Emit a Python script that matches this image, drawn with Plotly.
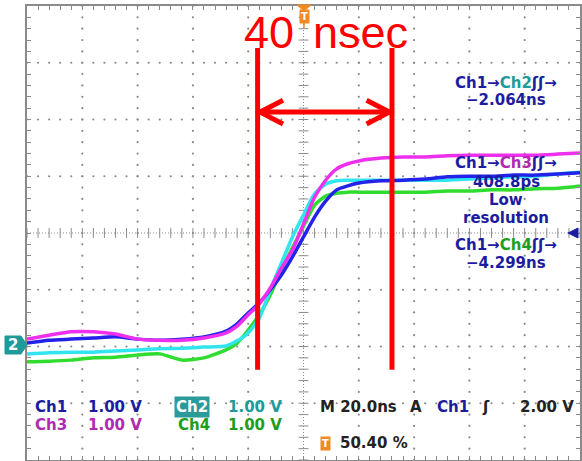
import plotly.graph_objects as go

# ---------------- data (20 ns/div, 1.00 V/div, volts from screen centre)
t_ns = [-100, -92, -84, -76, -68, -60, -52, -44, -36, -28, -24, -20, -16, -12, -8, -4,
        0, 4, 8, 12, 16, 20, 28, 36, 44, 52, 60, 68, 76, 84, 92, 100]
ch1_v = [-1.94, -1.89, -1.87, -1.85, -1.83, -1.87, -1.89, -1.87, -1.83, -1.73, -1.60, -1.41, -1.23, -1.00, -0.74, -0.42,
         -0.07, 0.28, 0.56, 0.76, 0.83, 0.88, 0.92, 0.93, 0.95, 0.99, 1.00, 1.00, 1.02, 1.02, 1.04, 1.06]
ch2_v = [-2.13, -2.11, -2.10, -2.10, -2.08, -2.06, -2.04, -2.03, -2.01, -1.99, -1.90, -1.76, -1.50, -1.00, -0.53, -0.07,
         0.32, 0.69, 0.86, 0.92, 0.93, 0.93, 0.93, 0.93, 0.93, 0.93, 0.95, 0.97, 0.99, 1.00, 1.04, 1.07]
ch3_v = [-1.87, -1.80, -1.74, -1.74, -1.78, -1.87, -1.89, -1.89, -1.85, -1.76, -1.64, -1.44, -1.25, -0.97, -0.62, -0.30,
         0.16, 0.63, 0.93, 1.13, 1.22, 1.27, 1.32, 1.34, 1.34, 1.36, 1.37, 1.37, 1.37, 1.37, 1.39, 1.41]
ch4_v = [-2.27, -2.26, -2.24, -2.20, -2.19, -2.15, -2.13, -2.24, -2.20, -2.06, -1.94, -1.71, -1.44, -1.09, -0.65, -0.26,
         0.12, 0.49, 0.65, 0.70, 0.72, 0.72, 0.72, 0.72, 0.72, 0.74, 0.74, 0.76, 0.76, 0.78, 0.79, 0.83]

cursor_ns = [-16.6, 32.0]          # hand-drawn red cursors
cursor_label = ["40", "nsec"]
meas_ch2 = "−2.064ns"
meas_ch3 = "408.8ps"
meas_ch4 = "−4.299ns"
volts_div = ["1.00 V", "1.00 V", "1.00 V", "1.00 V"]
timebase = "M 20.0ns"
trig_level = "2.00 V"
trig_pos = "50.40 %"

# ---------------- screen geometry
W, H = 582, 461
ML, MR, MT, MB = 27, 2, 6, 1
PW, PH = W - ML - MR, H - MT - MB


def X(p):
    return (p - ML) / PW


def Y(p):
    return (H - MB - p) / PH


GRID = "#8a8a8a"
NAVY = "#1c1ca0"
TEAL = "#1e9a9a"
MAG = "#b02ab0"
GRN = "#1e9e1e"
BLK = "#222222"
RED = "#ff0000"
ORANGE = "#f08a24"
FONT = "DejaVu Sans"

fig = go.Figure()

# grid dots
gx, gy = [], []
for xd in range(-80, 81, 20):
    if xd == 0:
        continue
    for k in range(-20, 21):
        gx.append(xd)
        gy.append(k * 0.2)
for yd in range(-3, 4):
    if yd == 0:
        continue
    for k in range(-25, 26):
        gx.append(k * 4)
        gy.append(yd)
fig.add_trace(go.Scatter(x=gx, y=gy, mode="markers", hoverinfo="skip",
                         marker=dict(size=2.2, color=GRID)))
fig.add_trace(go.Scatter(x=[k * 4 for k in range(-25, 26)], y=[0] * 51, mode="markers", hoverinfo="skip",
                         marker=dict(symbol="line-ns-open", size=7, color=GRID,
                                     line=dict(width=1, color=GRID))))
fig.add_trace(go.Scatter(x=[0] * 41, y=[k * 0.2 for k in range(-20, 21)], mode="markers", hoverinfo="skip",
                         marker=dict(symbol="line-ew-open", size=7, color=GRID,
                                     line=dict(width=1, color=GRID))))

# waveforms
for ys, col in [(ch4_v, "#2fdc2f"), (ch2_v, "#30e4f0"), (ch1_v, "#2222e8"), (ch3_v, "#ee30ee")]:
    fig.add_trace(go.Scatter(x=t_ns, y=ys, mode="lines", hoverinfo="skip",
                             line=dict(color=col, width=3.5, shape="spline", smoothing=0.6)))

shapes = []
# centre cross (dotted)
shapes.append(dict(type="line", xref="x", yref="y", x0=-100, x1=100, y0=0, y1=0, layer="below",
                   line=dict(color=GRID, width=1, dash="1px,2px")))
shapes.append(dict(type="line", xref="x", yref="y", x0=0, x1=0, y0=-4, y1=4, layer="below",
                   line=dict(color=GRID, width=1, dash="1px,2px")))

# red cursors and arrow
ytop, ybot, yarr = 3.26, -2.41, 2.13
for c in cursor_ns:
    shapes.append(dict(type="line", xref="x", yref="y", x0=c, x1=c, y0=ybot, y1=ytop,
                       line=dict(color=RED, width=5)))
a0, a1 = cursor_ns[0] + 0.9, cursor_ns[1] - 0.9
shapes.append(dict(type="line", xref="x", yref="y", x0=a0, x1=a1, y0=yarr, y1=yarr,
                   line=dict(color=RED, width=5)))
hx, hy = 8.3, 0.21
shapes.append(dict(type="path", xref="x", yref="y",
                   path=f"M {a0+hx},{yarr+hy} L {a0},{yarr} L {a0+hx},{yarr-hy}",
                   line=dict(color=RED, width=5)))
shapes.append(dict(type="path", xref="x", yref="y",
                   path=f"M {a1-hx},{yarr+hy} L {a1},{yarr} L {a1-hx},{yarr-hy}",
                   line=dict(color=RED, width=5)))

# trigger-position marker (top)
shapes.append(dict(type="path", xref="paper", yref="paper",
                   path=f"M {X(297)},{Y(5)} L {X(311)},{Y(5)} L {X(304)},{Y(11)} Z",
                   fillcolor=ORANGE, line=dict(color=ORANGE, width=1)))
shapes.append(dict(type="line", xref="paper", yref="paper", x0=X(304), x1=X(304), y0=Y(22), y1=Y(28),
                   line=dict(color=ORANGE, width=1.5)))
# ch2 ground marker (left)
shapes.append(dict(type="path", xref="paper", yref="paper",
                   path=f"M {X(5)},{Y(336)} L {X(21)},{Y(336)} L {X(27)},{Y(345)} L {X(21)},{Y(354)} L {X(5)},{Y(354)} Z",
                   fillcolor=TEAL, line=dict(color=TEAL, width=1)))
# ch1 trigger-level marker (right)
shapes.append(dict(type="path", xref="paper", yref="paper",
                   path=f"M {X(578)},{Y(228)} L {X(568)},{Y(233)} L {X(578)},{Y(238)} Z",
                   fillcolor=NAVY, line=dict(color=NAVY, width=1)))

ann = []


def txt(x, y, s, color=BLK, size=15, xanchor="left", bold=True, **kw):
    ann.append(dict(x=X(x), y=Y(y), xref="paper", yref="paper", text=(f"<b>{s}</b>" if bold else s),
                    showarrow=False, xanchor=xanchor, yanchor="middle",
                    font=dict(family=FONT, size=size, color=color), **kw))


def sp(s, c):
    return f'<span style="color:{c}">{s}</span>'


# red label, split around the trigger marker
ann.append(dict(x=X(296), y=Y(32), xref="paper", yref="paper", text=cursor_label[0], showarrow=False,
                xanchor="right", yanchor="middle",
                font=dict(family="Liberation Sans", size=45, color=RED)))
ann.append(dict(x=X(311), y=Y(32), xref="paper", yref="paper", text=cursor_label[1], showarrow=False,
                xanchor="left", yanchor="middle",
                font=dict(family="Liberation Sans", size=45, color=RED)))
# trigger T box
txt(304, 17, "T", color="white", size=10, xanchor="center", bgcolor=ORANGE, borderpad=1)
# ch2 marker label
txt(13, 345, "2", color="white", size=15, xanchor="center")

# measurements on the right
txt(506, 83, sp("Ch1→", NAVY) + sp("Ch2", TEAL) + sp("ʃʃ→", NAVY), NAVY, xanchor="center")
txt(506, 100, meas_ch2, NAVY, xanchor="center")
txt(506, 163, sp("Ch1→", NAVY) + sp("Ch3", MAG) + sp("ʃʃ→", NAVY), NAVY, xanchor="center")
txt(506, 182, meas_ch3, NAVY, xanchor="center")
txt(506, 200, "Low", NAVY, xanchor="center")
txt(506, 218, "resolution", NAVY, xanchor="center")
txt(506, 245, sp("Ch1→", NAVY) + sp("Ch4", GRN) + sp("ʃʃ→", NAVY), NAVY, xanchor="center")
txt(506, 263, meas_ch4, NAVY, xanchor="center")

# bottom readouts
txt(33, 407, "Ch1", NAVY)
txt(86, 407, volts_div[0], NAVY)
txt(174, 407, "Ch2", "white", bgcolor="#2a9a9a", borderpad=1)
txt(226, 407, volts_div[1], TEAL)
txt(33, 425, "Ch3", MAG)
txt(86, 425, volts_div[2], MAG)
txt(176, 425, "Ch4", GRN)
txt(226, 425, volts_div[3], GRN)
txt(318, 407, timebase, BLK)
txt(408, 407, "A", BLK)
txt(435, 407, "Ch1", NAVY)
txt(480, 407, "ʃ", BLK)
txt(518, 407, trig_level, BLK)
txt(320, 443, "T", "white", size=10, bgcolor=ORANGE, borderpad=1)
txt(338, 443, trig_pos, BLK)

axis_common = dict(showgrid=False, zeroline=False, showticklabels=False, ticks="inside", ticklen=4,
                   tickwidth=1, tickcolor=GRID, showline=True, linecolor=GRID, linewidth=2,
                   mirror="ticks", fixedrange=True, tickmode="linear")
fig.update_layout(
    width=W, height=H, margin=dict(l=ML, r=MR, t=MT, b=MB, pad=0),
    paper_bgcolor="white", plot_bgcolor="white", showlegend=False, hovermode=False,
    xaxis=dict(range=[-100, 100], tick0=-100, dtick=4, **axis_common),
    yaxis=dict(range=[-4, 4], tick0=-4, dtick=0.2, **axis_common),
    shapes=shapes, annotations=ann,
)
fig.write_html("out.html")
